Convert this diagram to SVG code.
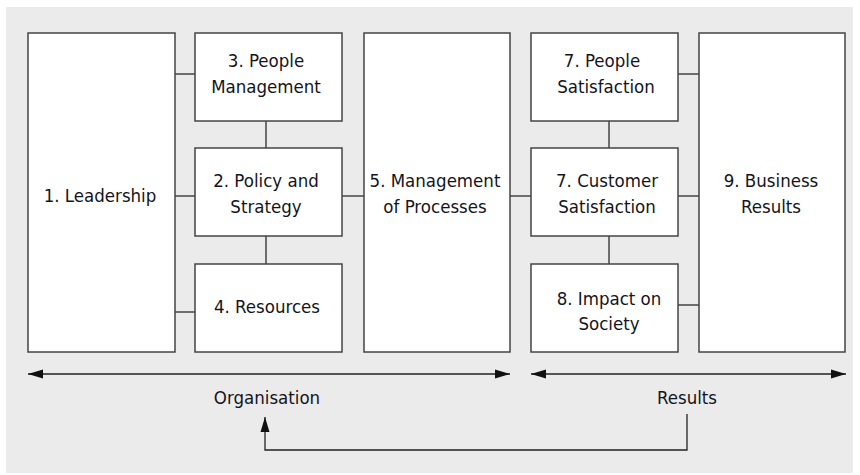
<svg xmlns="http://www.w3.org/2000/svg" width="860" height="475" viewBox="0 0 860 475">
  <style>
    .box { fill: #ffffff; stroke: #444444; stroke-width: 1.5; }
    .link { fill: none; stroke: #444444; stroke-width: 1.5; }
    .axis { fill: none; stroke: #222222; stroke-width: 1.3; }
    .lbl { font-family: "DejaVu Sans Condensed", "DejaVu Sans", sans-serif; font-stretch: condensed; font-size: 18.5px; fill: #141420; text-anchor: middle; }
  </style>
  <defs>
    <marker id="tip" markerUnits="userSpaceOnUse" markerWidth="16" markerHeight="10" refX="15" refY="5" orient="auto-start-reverse">
      <path d="M0,0.5 L15,5 L0,9.5 Z" fill="#111111"/>
    </marker>
  </defs>

  <rect x="6" y="7" width="847" height="466" fill="#ebebeb"/>

  <g id="connectors">
    <path class="link" d="M175,74 H195"/>
    <path class="link" d="M175,196 H195"/>
    <path class="link" d="M175,312 H195"/>
    <path class="link" d="M266,121 V148"/>
    <path class="link" d="M266,236 V264"/>
    <path class="link" d="M342,196 H364"/>
    <path class="link" d="M510,196 H531"/>
    <path class="link" d="M609,121 V148"/>
    <path class="link" d="M609,236 V264"/>
    <path class="link" d="M678,74 H699"/>
    <path class="link" d="M678,196 H699"/>
    <path class="link" d="M678,305 H699"/>
    <path class="axis" d="M28,374 H510" marker-start="url(#tip)" marker-end="url(#tip)"/>
    <path class="axis" d="M531,374 H846" marker-start="url(#tip)" marker-end="url(#tip)"/>
    <path class="axis" d="M687,414 V450 H265 V417" marker-end="url(#tip)"/>
  </g>

  <g id="leadership">
    <rect class="box" x="28" y="33" width="147" height="319"/>
    <text class="lbl" x="100" y="201.5">1. Leadership</text>
  </g>
  <g id="people-management">
    <rect class="box" x="195" y="33" width="147" height="88"/>
    <text class="lbl" x="266" y="67">3. People</text>
    <text class="lbl" x="266" y="93">Management</text>
  </g>
  <g id="policy-strategy">
    <rect class="box" x="195" y="148" width="147" height="88"/>
    <text class="lbl" x="266" y="187">2. Policy and</text>
    <text class="lbl" x="266" y="213">Strategy</text>
  </g>
  <g id="resources">
    <rect class="box" x="195" y="264" width="147" height="88"/>
    <text class="lbl" x="267" y="313">4. Resources</text>
  </g>
  <g id="processes">
    <rect class="box" x="364" y="33" width="146" height="319"/>
    <text class="lbl" x="435" y="187">5. Management</text>
    <text class="lbl" x="435" y="213">of Processes</text>
  </g>
  <g id="people-satisfaction">
    <rect class="box" x="531" y="33" width="147" height="88"/>
    <text class="lbl" x="602" y="67">7. People</text>
    <text class="lbl" x="606" y="93">Satisfaction</text>
  </g>
  <g id="customer-satisfaction">
    <rect class="box" x="531" y="148" width="147" height="88"/>
    <text class="lbl" x="607" y="187">7. Customer</text>
    <text class="lbl" x="607" y="213">Satisfaction</text>
  </g>
  <g id="impact-society">
    <rect class="box" x="531" y="264" width="147" height="88"/>
    <text class="lbl" x="609" y="305">8. Impact on</text>
    <text class="lbl" x="609" y="330">Society</text>
  </g>
  <g id="business-results">
    <rect class="box" x="699" y="33" width="146" height="319"/>
    <text class="lbl" x="771" y="187">9. Business</text>
    <text class="lbl" x="771" y="213">Results</text>
  </g>

  <g id="axis-labels">
    <text class="lbl" x="267" y="404">Organisation</text>
    <text class="lbl" x="687" y="404">Results</text>
  </g>
</svg>
